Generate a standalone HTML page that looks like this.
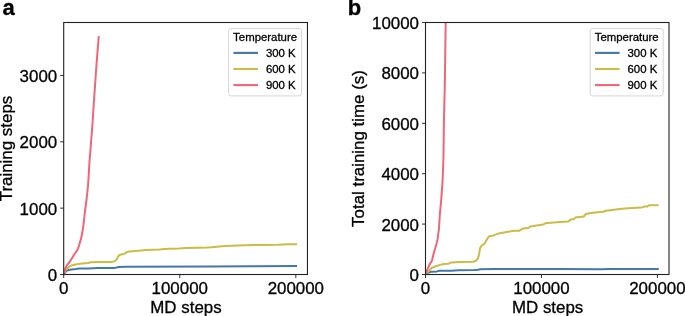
<!DOCTYPE html>
<html><head><meta charset="utf-8"><title>Training steps and time vs MD steps</title>
<style>
html,body{margin:0;padding:0;background:#fff;}
svg{display:block;}
text{font-family:"Liberation Sans",sans-serif;fill:#000;stroke:#000;stroke-width:0.3px;}
.t{font-size:16.9px;}
.l{font-size:11.4px;}
.p{font-size:22px;font-weight:bold;}
</style></head><body>
<svg width="685" height="316" viewBox="0 0 685 316">
<rect x="0" y="0" width="685" height="316" fill="#fff"/>
<clipPath id="ca"><rect x="63.70" y="22.50" width="243.75" height="252.00"/></clipPath>
<g clip-path="url(#ca)">
<polyline points="63.8,274.2 65.7,271.6 67.6,270.2 71.4,269.6 76.1,269.1 79.0,268.5 88.5,268.4 98.0,268.1 115.0,267.9 118.8,267.0 125.0,266.8 210.0,266.6 250.0,266.3 296.0,266.1" fill="none" stroke="#4477AA" stroke-width="2.0" stroke-linejoin="round" stroke-linecap="square"/>
<polyline points="63.8,274.2 65.7,270.1 67.6,268.1 69.5,266.4 72.3,265.2 77.1,264.3 81.8,263.6 88.5,263.0 90.4,262.3 98.0,262.1 112.2,261.9 115.0,261.1 116.9,259.2 118.1,256.4 119.8,254.8 122.6,254.3 125.0,253.3 127.2,251.8 133.1,251.2 146.3,250.1 159.4,249.5 168.6,248.8 179.1,248.5 185.7,248.0 198.8,247.7 206.7,247.6 211.6,247.3 224.7,245.9 244.4,245.2 264.1,244.9 277.3,244.8 289.1,244.2 296.0,244.2" fill="none" stroke="#CCBB44" stroke-width="2.0" stroke-linejoin="round" stroke-linecap="square"/>
<polyline points="63.8,274.2 65.2,268.7 67.1,264.9 69.5,262.1 71.9,258.3 74.2,254.5 76.6,251.2 78.0,248.6 79.0,245.5 80.9,239.1 82.4,232.3 83.7,223.0 84.7,213.5 86.0,204.0 87.1,194.5 88.1,185.0 89.4,163.0 90.9,144.0 92.4,125.0 94.2,97.3 95.7,76.0 97.0,58.0 98.7,37.1" fill="none" stroke="#EE6677" stroke-width="2.0" stroke-linejoin="round" stroke-linecap="square"/>
</g>
<path d="M63.70 274.50v3.5 M179.77 274.50v3.5 M295.84 274.50v3.5 M63.70 274.50h-3.5 M63.70 208.15h-3.5 M63.70 141.80h-3.5 M63.70 75.45h-3.5" stroke="#1a1a1a" stroke-width="0.9" fill="none"/>
<rect x="63.70" y="22.50" width="243.75" height="252.00" fill="none" stroke="#222" stroke-width="1.1"/>
<text class="t" x="63.70" y="293.55" text-anchor="middle">0</text>
<text class="t" x="179.77" y="293.55" text-anchor="middle">100000</text>
<text class="t" x="295.84" y="293.55" text-anchor="middle">200000</text>
<text class="t" x="57.20" y="280.90" text-anchor="end">0</text>
<text class="t" x="57.20" y="214.55" text-anchor="end">1000</text>
<text class="t" x="57.20" y="148.20" text-anchor="end">2000</text>
<text class="t" x="57.20" y="81.85" text-anchor="end">3000</text>
<text class="t" x="185.97" y="312.6" text-anchor="middle">MD steps</text>
<text class="t" transform="translate(12.20 148.50) rotate(-90)" text-anchor="middle">Training steps</text>
<text class="p" x="2.60" y="15.3">a</text>
<rect x="228.60" y="28.5" width="73" height="67.4" rx="2.3" ry="2.3" fill="#fff" fill-opacity="0.8" stroke="#ccc" stroke-opacity="0.8" stroke-width="1"/>
<text class="l" x="265.10" y="41.3" text-anchor="middle">Temperature</text>
<path d="M233.40 52.90H258.00" stroke="#4477AA" stroke-width="2.1" fill="none"/>
<text class="l" x="265.90" y="56.90">300 K</text>
<path d="M233.40 69.00H258.00" stroke="#CCBB44" stroke-width="2.1" fill="none"/>
<text class="l" x="265.90" y="73.00">600 K</text>
<path d="M233.40 85.10H258.00" stroke="#EE6677" stroke-width="2.1" fill="none"/>
<text class="l" x="265.90" y="89.10">900 K</text>
<clipPath id="cb"><rect x="425.50" y="22.50" width="243.50" height="252.00"/></clipPath>
<g clip-path="url(#cb)">
<polyline points="425.5,274.2 427.3,273.1 430.8,271.8 436.9,271.4 439.5,270.7 450.9,270.7 458.8,270.3 474.5,270.1 478.0,269.8 480.5,269.2 495.0,269.1 505.0,268.9 560.0,268.9 600.0,269.3 611.0,268.9 657.8,268.9" fill="none" stroke="#4477AA" stroke-width="2.0" stroke-linejoin="round" stroke-linecap="square"/>
<polyline points="425.5,274.2 428.6,271.1 431.5,268.0 435.3,266.5 439.1,265.1 443.8,264.0 448.6,263.7 451.4,262.4 460.0,262.1 473.2,261.8 476.1,260.7 478.0,258.3 479.2,253.5 480.1,247.8 481.8,245.5 484.2,243.9 488.8,236.4 493.4,235.4 498.7,233.4 506.5,232.1 514.4,230.8 519.0,230.8 522.3,228.8 528.9,227.7 530.2,226.6 543.3,224.5 545.3,223.3 553.8,222.5 560.0,222.0 568.4,221.4 570.7,219.6 573.8,219.1 575.3,217.6 583.8,216.5 585.8,214.1 590.7,213.0 602.9,211.8 606.0,210.7 624.4,208.4 641.2,207.6 644.3,206.6 647.4,206.6 648.9,205.3 657.6,205.3" fill="none" stroke="#CCBB44" stroke-width="2.0" stroke-linejoin="round" stroke-linecap="square"/>
<polyline points="425.5,274.2 427.7,268.7 429.6,264.4 432.0,260.7 433.4,254.5 434.8,249.7 436.2,245.0 437.5,239.7 439.0,228.3 439.8,215.0 441.3,198.7 442.4,183.5 443.2,166.4 443.5,155.0 443.9,122.7 444.8,85.0 445.7,22.5" fill="none" stroke="#EE6677" stroke-width="2.0" stroke-linejoin="round" stroke-linecap="square"/>
</g>
<path d="M425.50 274.50v3.5 M541.45 274.50v3.5 M657.40 274.50v3.5 M425.50 274.50h-3.5 M425.50 224.10h-3.5 M425.50 173.70h-3.5 M425.50 123.30h-3.5 M425.50 72.90h-3.5 M425.50 22.50h-3.5" stroke="#1a1a1a" stroke-width="0.9" fill="none"/>
<rect x="425.50" y="22.50" width="243.50" height="252.00" fill="none" stroke="#222" stroke-width="1.1"/>
<text class="t" x="425.50" y="293.55" text-anchor="middle">0</text>
<text class="t" x="541.45" y="293.55" text-anchor="middle">100000</text>
<text class="t" x="657.40" y="293.55" text-anchor="middle">200000</text>
<text class="t" x="419.00" y="280.90" text-anchor="end">0</text>
<text class="t" x="419.00" y="230.50" text-anchor="end">2000</text>
<text class="t" x="419.00" y="180.10" text-anchor="end">4000</text>
<text class="t" x="419.00" y="129.70" text-anchor="end">6000</text>
<text class="t" x="419.00" y="79.30" text-anchor="end">8000</text>
<text class="t" x="419.00" y="28.90" text-anchor="end">10000</text>
<text class="t" x="547.65" y="312.6" text-anchor="middle">MD steps</text>
<text class="t" transform="translate(364.40 148.50) rotate(-90)" text-anchor="middle">Total training time (s)</text>
<text class="p" x="347.80" y="15.3">b</text>
<rect x="590.20" y="28.5" width="73" height="67.4" rx="2.3" ry="2.3" fill="#fff" fill-opacity="0.8" stroke="#ccc" stroke-opacity="0.8" stroke-width="1"/>
<text class="l" x="626.70" y="41.3" text-anchor="middle">Temperature</text>
<path d="M595.00 52.90H619.60" stroke="#4477AA" stroke-width="2.1" fill="none"/>
<text class="l" x="627.50" y="56.90">300 K</text>
<path d="M595.00 69.00H619.60" stroke="#CCBB44" stroke-width="2.1" fill="none"/>
<text class="l" x="627.50" y="73.00">600 K</text>
<path d="M595.00 85.10H619.60" stroke="#EE6677" stroke-width="2.1" fill="none"/>
<text class="l" x="627.50" y="89.10">900 K</text>
</svg></body></html>
